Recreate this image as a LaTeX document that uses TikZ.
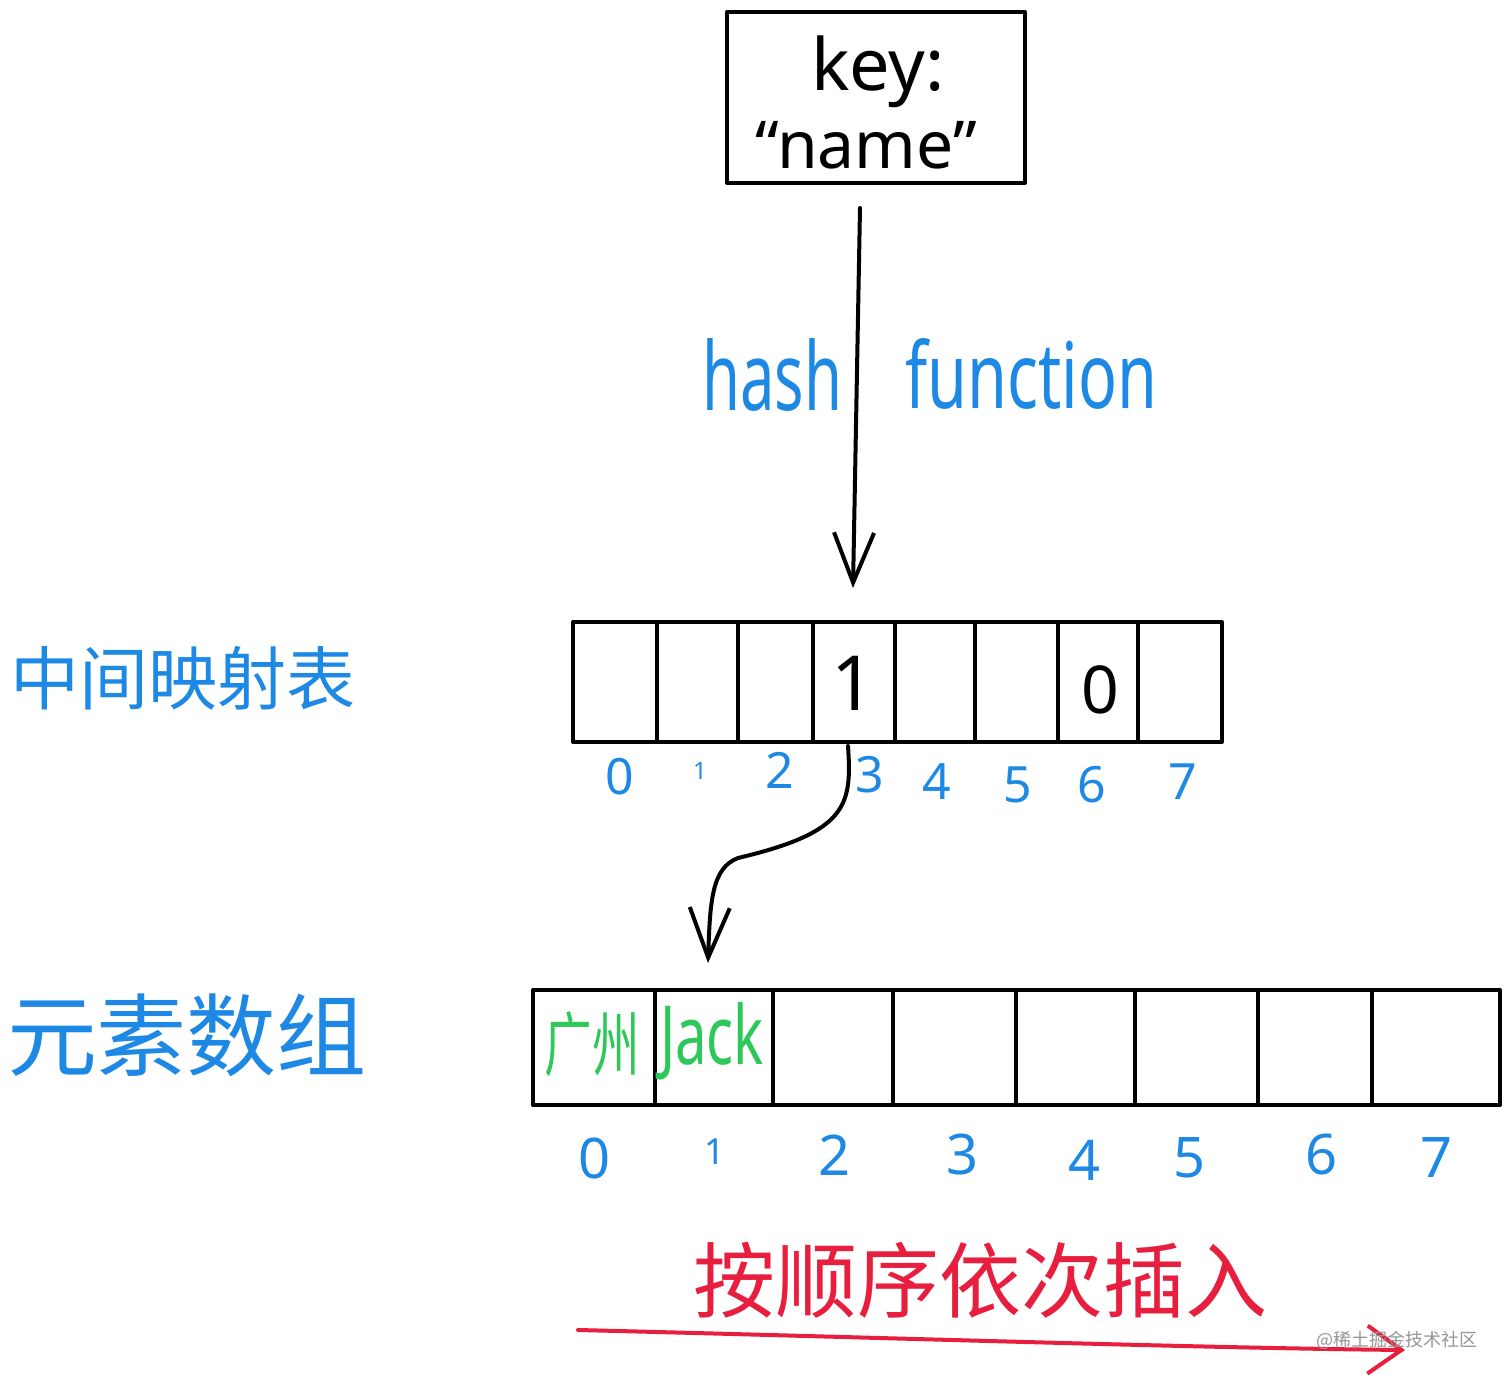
\documentclass[tikz,border=0pt]{standalone}
\usepackage{fontspec}
\usepackage{graphicx}
\setmainfont{Noto Sans}
\newfontfamily\cjk{Noto Sans CJK SC}
\usetikzlibrary{arrows.meta}
\definecolor{inkblue}{RGB}{30,136,229}
\definecolor{inkgreen}{RGB}{46,200,90}
\definecolor{inkred}{RGB}{232,30,62}
\definecolor{wmgray}{RGB}{150,150,150}
\begin{document}
\begin{tikzpicture}[x=0.5pt,y=-0.5pt,
  ink/.style={line width=2pt, line cap=round, line join=round},
  mcell/.style={draw, ink, inner sep=0pt, outer sep=0pt, minimum height=60pt},
  ecell/.style={draw, ink, inner sep=0pt, outer sep=0pt, minimum height=57.5pt},
  idxa/.style={text=inkblue, font=\fontsize{25}{25}\selectfont, inner sep=0pt},
  idxb/.style={text=inkblue, font=\fontsize{28}{28}\selectfont, inner sep=0pt},
  bluelabel/.style={text=inkblue, inner sep=0pt},
  greenlabel/.style={text=inkgreen, inner sep=0pt},
  barb/.style={-{Straight Barb[length=25pt,width=20pt,line width=2pt]}},
]
\useasboundingbox (0,0) rectangle (1512,1386);

% key box
\node[draw, ink, minimum width=149pt, minimum height=85.5pt, inner sep=0pt] (key) at (876,97.5) {};
\node[inner sep=0pt, font=\fontsize{36}{36}\selectfont] (keytxt) at (878,72) {key:};
\node[inner sep=0pt, font=\fontsize{33}{33}\selectfont] (nametxt) at (866,145) {“name”};

% middle mapping table
\node[mcell, minimum width=42pt]   (m0) at (615,682) {};
\node[mcell, minimum width=40.5pt] (m1) at (697.5,682) {};
\node[mcell, minimum width=37.5pt] (m2) at (775.5,682) {};
\node[mcell, minimum width=41pt]   (m3) at (854,682) {};
\node[mcell, minimum width=40pt]   (m4) at (935,682) {};
\node[mcell, minimum width=41.5pt] (m5) at (1016.5,682) {};
\node[mcell, minimum width=40pt]   (m6) at (1098,682) {};
\node[mcell, minimum width=42pt]   (m7) at (1180,682) {};
\node[inner sep=0pt, font=\fontsize{38}{38}\selectfont] (v3) at (853,683) {1};
\node[inner sep=0pt, font=\fontsize{33}{33}\selectfont] (v6) at (1100,690) {0};

% hash arrow
\coordinate (hs) at (860,208);
\coordinate (ht) at (853,588);
\draw[ink, barb] (hs) -- (ht);
\node[bluelabel, anchor=south west] (hashlbl) at (702,412) {\fontsize{47}{47}\selectfont\resizebox{70pt}{36pt}{hash}};
\node[bluelabel, anchor=south west] (funclbl) at (905,410) {\fontsize{47}{47}\selectfont\resizebox{126pt}{35pt}{function}};

% indices of mapping table
\node[idxa] (ma0) at (620,777) {0};
\node[idxa, font=\fontsize{12}{12}\selectfont] (ma1) at (700,771) {1};
\node[idxa] (ma2) at (780,770) {2};
\node[idxa] (ma3) at (870,775) {3};
\node[idxa] (ma4) at (937,782) {4};
\node[idxa] (ma5) at (1018,785) {5};
\node[idxa] (ma6) at (1092,785) {6};
\node[idxa] (ma7) at (1183,782) {7};

% left labels
\node[bluelabel, font=\cjk\fontsize{34.5}{34.5}\selectfont] (lblmap) at (183,678) {中间映射表};
\node[bluelabel, font=\cjk\fontsize{45}{45}\selectfont] (lblarr) at (187,1035) {元素数组};

% element array
\node[ecell, minimum width=61pt]   (e0) at (594,1047.5) {};
\node[ecell, minimum width=59pt]   (e1) at (714,1047.5) {};
\node[ecell, minimum width=60pt]   (e2) at (833,1047.5) {};
\node[ecell, minimum width=61.5pt] (e3) at (954.5,1047.5) {};
\node[ecell, minimum width=59.5pt] (e4) at (1075.5,1047.5) {};
\node[ecell, minimum width=61.5pt] (e5) at (1196.5,1047.5) {};
\node[ecell, minimum width=57pt]   (e6) at (1315,1047.5) {};
\node[ecell, minimum width=64pt]   (e7) at (1436,1047.5) {};
\node[greenlabel] (gz) at (592,1044) {\cjk\fontsize{28}{28}\selectfont\scalebox{0.85}[1.25]{广州}};
\node[greenlabel, anchor=south] (jack) at (712,1080) {\fontsize{45}{45}\selectfont\resizebox{52pt}{31pt}{Jack}};

% curved arrow from mapping cell 3 to element cell 1
\coordinate (cs) at (848,746);
\coordinate (ct) at (708,963);
\draw[ink, barb] (cs) .. controls (852,805) and (848,832) .. (738,858)
  .. controls (712,868) and (710,900) .. (ct);

% indices of element array
\node[idxb] (ea0) at (595,1158) {0};
\node[idxb, font=\fontsize{18}{18}\selectfont] (ea1) at (715,1152) {1};
\node[idxb] (ea2) at (835,1155) {2};
\node[idxb] (ea3) at (963,1155) {3};
\node[idxb] (ea4) at (1085,1160) {4};
\node[idxb] (ea5) at (1190,1158) {5};
\node[idxb] (ea6) at (1322,1155) {6};
\node[idxb] (ea7) at (1437,1158) {7};

% insertion order
\node[text=inkred, inner sep=0pt, font=\cjk\fontsize{41}{41}\selectfont] (order) at (980,1280) {按顺序依次插入};
\coordinate (rs) at (578,1330);
\coordinate (rt) at (1405,1350);
\draw[ink, inkred, -{Straight Barb[length=17pt,width=24pt,line width=2pt]}] (rs) .. controls (900,1338) and (1200,1348) .. (rt);

% watermark
\node[text=wmgray, inner sep=0pt, font=\cjk\fontsize{9}{9}\selectfont] (wm) at (1397,1340) {@稀土掘金技术社区};
\end{tikzpicture}
\end{document}
